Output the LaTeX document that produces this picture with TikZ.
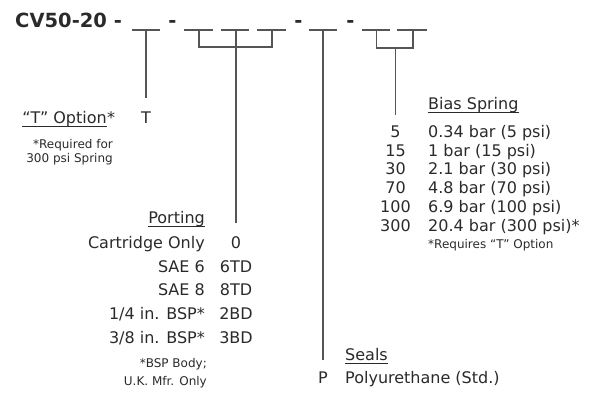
\documentclass[tikz,border=0pt]{standalone}
\usepackage{fontspec}
\setmainfont{DejaVu Sans}
\usepackage{xcolor}
\usepackage{tikz}

\definecolor{ink}{HTML}{2A2A2A}
\definecolor{wiregray}{HTML}{555555}

\begin{document}
\begin{tikzpicture}[x=1pt,y=-1pt,
  lbl/.style={inner sep=0pt,text=ink,font=\fontsize{16}{19}\selectfont},
  note/.style={inner sep=0pt,text=ink,font=\fontsize{12}{14}\selectfont},
  boldlbl/.style={inner sep=0pt,text=ink,font=\fontsize{19.5}{22}\selectfont\bfseries},
  wire/.style={draw=wiregray,line width=1.3pt},
  lead/.style={wire,shorten >=#1},
  uline/.style={draw=ink,line width=1pt}]
  \useasboundingbox (0,0) rectangle (593,392);

  % part number with blanks
  \node[boldlbl,anchor=base west] (title) at (15,27) {CV50-20 -};
  \node[boldlbl,anchor=base] (d1) at (172.5,27) {-};
  \node[boldlbl,anchor=base] (d2) at (298.5,27) {-};
  \node[boldlbl,anchor=base] (d3) at (350.5,27) {-};
  \coordinate (b1) at (146,30);
  \coordinate (b2) at (199,30);
  \coordinate (b3) at (236,30);
  \coordinate (b4) at (272,30);
  \coordinate (b5) at (323,30);
  \coordinate (b6) at (376.5,30);
  \coordinate (b7) at (413,30);
  \draw[wire] (132,30) -- (160,30);
  \draw[wire] (184,30) -- (213,30);
  \draw[wire] (221,30) -- (249,30);
  \draw[wire] (257,30) -- (286,30);
  \draw[wire] (309,30) -- (337,30);
  \draw[wire] (362,30) -- (390,30);
  \draw[wire] (397,30) -- (427,30);

  % "T" option
  \node[lbl,anchor=base east] (topt) at (107,123) {“T” Option};
  \node[lbl,anchor=base west] (tstar) at (topt.base east) {*};
  \draw[uline] ([yshift=-3.5pt]topt.base west) -- ([yshift=-3.5pt]topt.base east);
  \node[note,anchor=base east] (treq1) at (113,148) {*Required for};
  \node[note,anchor=base east] (treq2) at (113,162) {300 psi Spring};
  \node[lbl,anchor=base] (tc) at (146,123) {T};
  \draw[lead=13pt] (b1) -- (tc);

  % porting
  \node[lbl,anchor=base east] (port) at (205,223) {Porting};
  \draw[uline] ([yshift=-3.5pt]port.base west) -- ([yshift=-3.5pt]port.base east);
  \node[lbl,anchor=base east] (pl1) at (205,248) {Cartridge Only};
  \node[lbl,anchor=base east] (pl2) at (205,272) {SAE 6};
  \node[lbl,anchor=base east] (pl3) at (205,295) {SAE 8};
  \node[lbl,anchor=base east] (pl4) at (205,319) {1/4 in. BSP*};
  \node[lbl,anchor=base east] (pl5) at (205,343) {3/8 in. BSP*};
  \node[lbl,anchor=base] (pc1) at (236,248) {0};
  \node[lbl,anchor=base] (pc2) at (236,272) {6TD};
  \node[lbl,anchor=base] (pc3) at (236,295) {8TD};
  \node[lbl,anchor=base] (pc4) at (236,319) {2BD};
  \node[lbl,anchor=base] (pc5) at (236,343) {3BD};
  \node[note,anchor=base east] (pnote1) at (207,367) {*BSP Body;};
  \node[note,anchor=base east] (pnote2) at (207,385) {U.K. Mfr. Only};
  \draw[wire] (b2) -- ++(0,17) -| (b4);
  \draw[lead=13pt] (b3) -- (pc1);

  % seals
  \node[lbl,anchor=base west] (seals) at (345,360) {Seals};
  \draw[uline] ([yshift=-3.5pt]seals.base west) -- ([yshift=-3.5pt]seals.base east);
  \node[lbl,anchor=base] (sc) at (323,383) {P};
  \node[lbl,anchor=base west] (sd) at (345,383) {Polyurethane (Std.)};
  \draw[lead=11pt] (b5) -- (sc);

  % bias spring
  \node[lbl,anchor=base west] (bias) at (428,109) {Bias Spring};
  \draw[uline] ([yshift=-3.5pt]bias.base west) -- ([yshift=-3.5pt]bias.base east);
  \node[lbl,anchor=base] (bc1) at (395.5,137.5) {5};
  \node[lbl,anchor=base] (bc2) at (395.5,156) {15};
  \node[lbl,anchor=base] (bc3) at (395.5,174.5) {30};
  \node[lbl,anchor=base] (bc4) at (395.5,193.5) {70};
  \node[lbl,anchor=base] (bc5) at (395.5,212) {100};
  \node[lbl,anchor=base] (bc6) at (395.5,231) {300};
  \node[lbl,anchor=base west] (bd1) at (428,137.5) {0.34 bar (5 psi)};
  \node[lbl,anchor=base west] (bd2) at (428,156) {1 bar (15 psi)};
  \node[lbl,anchor=base west] (bd3) at (428,174.5) {2.1 bar (30 psi)};
  \node[lbl,anchor=base west] (bd4) at (428,193.5) {4.8 bar (70 psi)};
  \node[lbl,anchor=base west] (bd5) at (428,212) {6.9 bar (100 psi)};
  \node[lbl,anchor=base west] (bd6) at (428,231) {20.4 bar (300 psi)*};
  \node[note,anchor=base west] (bnote) at (428,248.5) {*Requires “T” Option};
  \draw[wire] (b6) -- ++(0,18) -| (b7);
  \coordinate (bm) at (395.5,48);
  \draw[lead=11pt] (bm) -- (bc1);
\end{tikzpicture}
\end{document}
